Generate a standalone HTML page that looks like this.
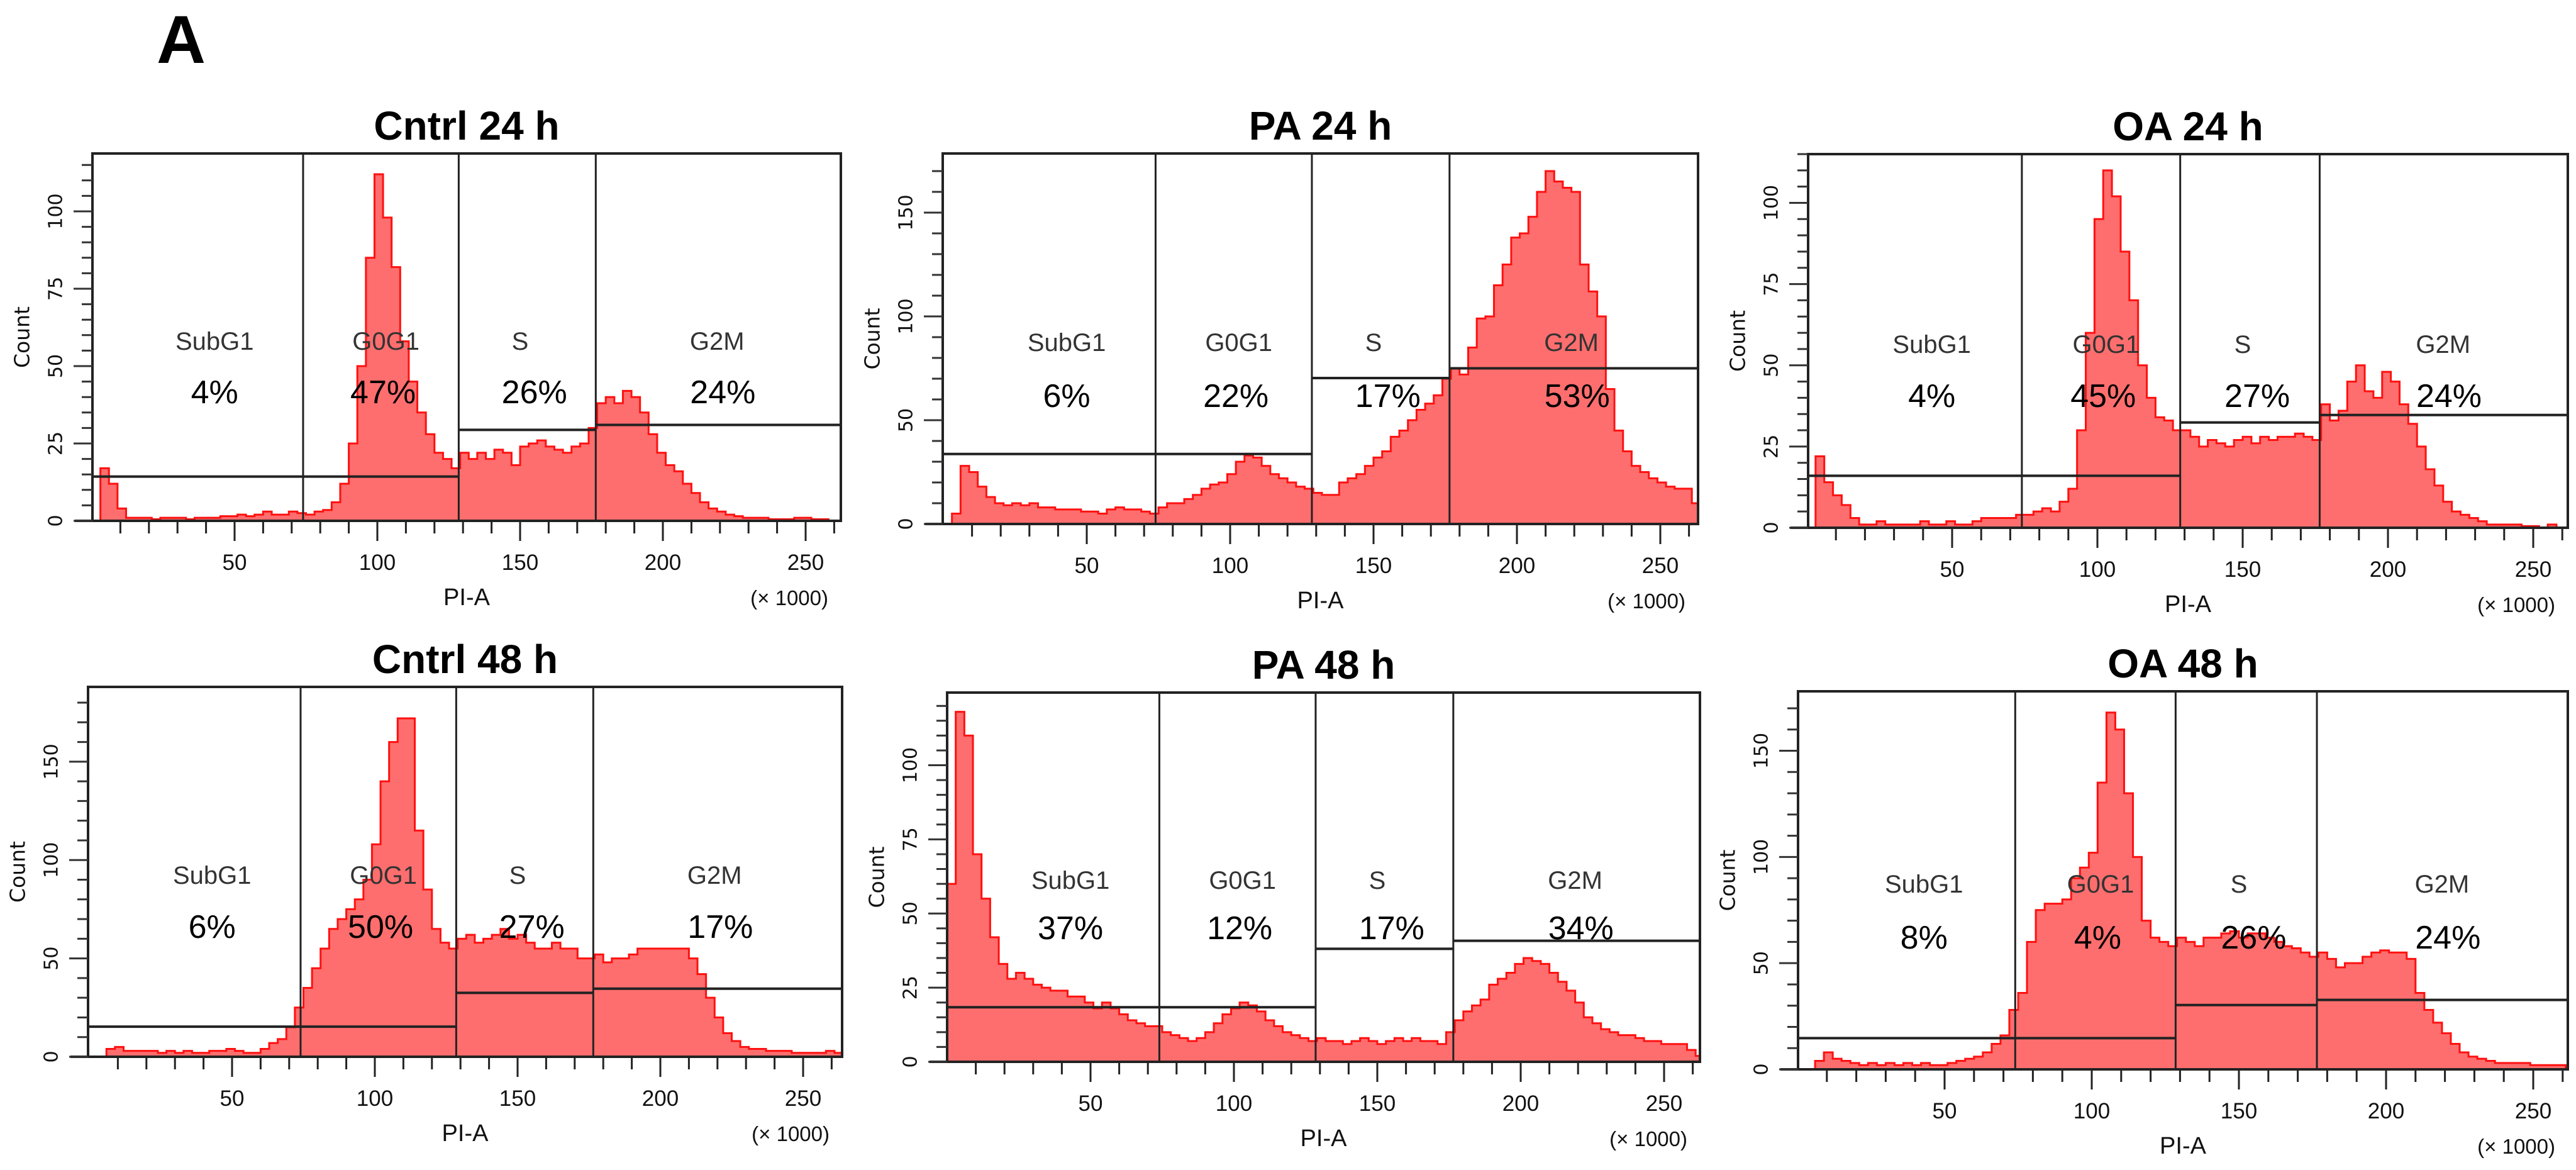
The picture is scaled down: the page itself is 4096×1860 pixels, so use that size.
<!DOCTYPE html>
<html><head><meta charset="utf-8"><title>Cell cycle histograms</title>
<style>
html,body{margin:0;padding:0;background:#fff;}
svg{display:block;}
</style></head>
<body>
<svg id="fig" width="4096" height="1860" viewBox="0 0 4096 1860" xmlns="http://www.w3.org/2000/svg">
<rect width="4096" height="1860" fill="#fff"/>
<text x="288" y="100" font-family="Liberation Sans, sans-serif" font-weight="bold" font-size="108" text-anchor="middle" fill="#000">A</text>
</svg>
<script>
// shared x bins (×1000)
const binStarts = [0,3,6,9,12,15,18,21,24,27,30,33,36,39,42,45,48,51,54,57,60,63,66,69,72,75,78,81,84,87,90,93,96,99,102,105,108,111,114,117,120,123,126,129,132,135,138,141,144,147,150,153,156,159,162,165,168,171,174,177,180,183,186,189,192,195,198,201,204,207,210,213,216,219,222,225,228,231,234,237,240,243,246,249,252,255,258,261];
const xTickLabels = ["50","100","150","200","250"];
const regionNames = ["SubG1","G0G1","S","G2M"];
const gateBounds = [74,128.5,176.5];
const panelTitles = ["Cntrl 24 h","PA 24 h","OA 24 h","Cntrl 48 h","PA 48 h","OA 48 h"];
const pctCntrl24 = ["4%","47%","26%","24%"];
const pctPA24 = ["6%","22%","17%","53%"];
const pctOA24 = ["4%","45%","27%","24%"];
const pctCntrl48 = ["6%","50%","27%","17%"];
const pctPA48 = ["37%","12%","17%","34%"];
const pctOA48 = ["8%","4%","26%","24%"];
const gateCntrl24 = [14.3,14.3,29.4,31];
const gatePA24 = [33.7,33.7,70.3,75];
const gateOA24 = [16,16,32.4,34.7];
const gateCntrl48 = [15.3,15.3,32.5,34.6];
const gatePA48 = [18.4,18.4,38.1,40.8];
const gateOA48 = [14.7,14.7,30.3,32.7];
const yMaxes = [118.7,178.5,115,188,124.5,178];
const countsCntrl24 = [0,17,12,4,1,1,1,0.5,1,1,1,0.5,1,1,1,1.5,1.5,2,1.5,2,3,2,2,3,2.5,2,3,3.5,6,12,25,50,85,112,98,82,58,45,35,28,22,20,17,22,20,22,20,23,22,18,24,25,26,24,23,22,24,25,30,38,40,38,42,40,35,28,22,18,16,12,9,6,4,3,2,1.5,1,1,1,0.5,0.5,0.5,1,1,0.5,0.5,0,0];
const countsPA24 = [0,5,28,25,18,13,10,9,10,9,10,8,8,7,7,7,6,6,5,7,8,7,7,6,5,8,10,10,12,14,17,19,20,24,30,33,32,28,24,22,20,18,17,15,14,14,20,22,24,28,32,35,42,45,50,55,58,62,70,75,72,85,99,100,115,125,138,140,148,160,170,165,162,160,125,112,100,65,45,35,28,25,22,20,18,17,17,10];
const countsOA24 = [0,22,14,10,7,3,1,1,2,1,1,1,1,2,1,1,2,1,1,2,3,3,3,3,4,4,5,6,5,8,12,30,60,95,110,102,85,70,50,40,34,33,30,30,28,25,27,26,25,27,28,26,28,27,28,28,29,28,27,38,33,36,45,50,42,40,48,45,38,32,25,18,13,8,5,4,3,2,1,1,1,1,0.5,0.5,0,1,0,0];
const countsCntrl48 = [0,0,4,5,3,3,3,3,2,3,2,3,2,2,3,3,4,3,2,2,4,7,9,15,25,35,45,55,65,70,75,80,90,108,140,160,172,172,115,85,65,58,55,60,62,58,60,62,65,60,62,58,55,55,58,55,55,50,50,52,48,50,50,52,55,55,55,55,55,55,50,42,30,20,12,8,5,4,4,3,3,3,2,2,2,2,3,2];
const countsPA48 = [60,118,110,70,55,42,33,28,30,28,26,25,24,24,22,22,20,18,20,18,16,14,13,12,12,10,9,8,7,8,10,13,16,18,20,19,17,14,12,10,9,8,7,8,7,7,6,7,8,7,6,7,8,7,8,7,7,6,10,14,17,19,21,26,28,30,33,35,34,33,30,27,24,20,15,13,11,10,9,9,8,7,7,6,6,6,4,2];
const countsOA48 = [0,0,4,8,5,4,3,2,3,2,3,2,3,2,3,2,2,3,4,5,6,8,12,16,28,36,60,75,78,78,80,90,95,102,135,168,160,130,100,70,62,60,58,62,60,58,62,62,64,65,62,64,64,62,60,58,57,55,53,55,52,48,50,50,53,55,56,55,55,52,36,28,22,17,12,8,6,5,4,3,3,3,3,2,2,2,2,1];

const SVGNS = "http://www.w3.org/2000/svg";
const svg = document.getElementById('fig');
function mk(tag, attrs, parent){
  const e = document.createElementNS(SVGNS, tag);
  for (const k in attrs) e.setAttribute(k, attrs[k]);
  (parent||svg).appendChild(e);
  return e;
}
const layouts = [
  {left:147,right:1337,top:244,bottom:828,x0:146,pxk:4.54,labY:543,pctY:624},
  {left:1499,right:2700,top:244,bottom:833,x0:1500,pxk:4.56,labY:545,pctY:630},
  {left:2875,right:4083,top:245,bottom:839,x0:2873,pxk:4.62,labY:548,pctY:630},
  {left:140,right:1339,top:1092,bottom:1680,x0:142,pxk:4.54,labY:1392,pctY:1474},
  {left:1506,right:2703,top:1101,bottom:1688,x0:1506,pxk:4.56,labY:1400,pctY:1476},
  {left:2859,right:4083,top:1099,bottom:1700,x0:2858,pxk:4.68,labY:1406,pctY:1491}
];
const allCounts = [countsCntrl24,countsPA24,countsOA24,countsCntrl48,countsPA48,countsOA48];
const allPcts = [pctCntrl24,pctPA24,pctOA24,pctCntrl48,pctPA48,pctOA48];
const allGates = [gateCntrl24,gatePA24,gateOA24,gateCntrl48,gatePA48,gateOA48];
const regionLabelX = [43,103,150,219];
const regionPctX = [43,102,155,221];
const FONT = "Liberation Sans, sans-serif";

function drawPanel(i){
  const L = layouts[i], yMax = yMaxes[i];
  const g = mk('g', {});
  
  
  const xs = v => L.x0 + v * L.pxk;
  const ys = v => L.bottom - (Math.min(v, yMax) / yMax) * (L.bottom - L.top);
  const xEnd = (L.right - L.x0) / L.pxk;

  const counts = allCounts[i];
  let d = 'M' + xs(binStarts[0]) + ',' + L.bottom;
  for (let k = 0; k < binStarts.length; k++){
    const xa = xs(binStarts[k]);
    const xb = Math.min(xs(k+1 < binStarts.length ? binStarts[k+1] : xEnd), L.right);
    const y = ys(counts[k]);
    d += ' L' + xa + ',' + y + ' L' + xb + ',' + y;
  }
  d += ' L' + L.right + ',' + L.bottom + ' Z';
  const area = mk('path', {d:d, fill:'#ff6e6e', stroke:'#ff1010', 'stroke-width':3, 'stroke-linejoin':'miter'}, g);
  
  

  gateBounds.forEach((b, j) => {
    const ln = mk('line', {x1:xs(b), x2:xs(b), y1:L.top, y2:L.bottom, stroke:'#222', 'stroke-width':3}, g);
    
    
  });
  const gates = allGates[i];
  const segs = [[L.left, xs(gateBounds[0])],[xs(gateBounds[0]), xs(gateBounds[1])],[xs(gateBounds[1]), xs(gateBounds[2])],[xs(gateBounds[2]), L.right]];
  gates.forEach((gv, j) => {
    const ln = mk('line', {x1:segs[j][0], x2:segs[j][1], y1:ys(gv), y2:ys(gv), stroke:'#222', 'stroke-width':4}, g);
    
    
  });

  const fr = mk('rect', {x:L.left, y:L.top, width:L.right-L.left, height:L.bottom-L.top, fill:'none', stroke:'#222', 'stroke-width':4}, g);
  
  
  const ax = mk('line', {x1:L.left-28, x2:L.right, y1:L.bottom, y2:L.bottom, stroke:'#222', 'stroke-width':4}, g);
  
  

  for (let v = 10; v <= 260; v += 10){
    const major = v % 50 === 0;
    const t = mk('line', {x1:xs(v), x2:xs(v), y1:L.bottom, y2:L.bottom + (major ? 32 : 20), stroke:'#222', 'stroke-width':3}, g);
    
    
  }
  xTickLabels.forEach((lab) => {
    const v = parseFloat(lab);
    const t = mk('text', {x:xs(v), y:L.bottom + 78, 'font-family':FONT, 'font-size':35, 'text-anchor':'middle', fill:'#111'}, g);
    t.textContent = lab;
    
    
  });
  const xt = mk('text', {x:(L.left+L.right)/2, y:L.bottom + 134, 'font-family':FONT, 'font-size':38, 'text-anchor':'middle', fill:'#111'}, g);
  xt.textContent = 'PI-A';
  
  
  const xu = mk('text', {x:L.right - 20, y:L.bottom + 134, 'font-family':FONT, 'font-size':33, 'text-anchor':'end', fill:'#111'}, g);
  xu.textContent = '(× 1000)';
  
  

  const minor = yMax < 130 ? 5 : 10, majorStep = yMax < 130 ? 25 : 50;
  for (let v = 0; v <= yMax; v += minor){
    const isMajor = v % majorStep === 0;
    const t = mk('line', {x1:L.left - (isMajor ? 30 : 17), x2:L.left, y1:ys(v), y2:ys(v), stroke:'#333', 'stroke-width':3}, g);
    
    
    if (isMajor){
      const lx = L.left - 58, ly = ys(v);
      const tl = mk('text', {x:lx, y:ly, 'font-family':'DejaVu Sans, sans-serif', 'font-size':30, 'text-anchor':'middle', 'dominant-baseline':'central', fill:'#111', transform:'rotate(-90 ' + lx + ' ' + ly + ')'}, g);
      tl.textContent = String(v);
      
      
    }
  }
  const cx = L.left - 112, cy = (L.top + L.bottom) / 2;
  const yt = mk('text', {x:cx, y:cy, 'font-family':'DejaVu Sans, sans-serif', 'font-size':33, 'text-anchor':'middle', 'dominant-baseline':'central', fill:'#111', transform:'rotate(-90 ' + cx + ' ' + cy + ')'}, g);
  yt.textContent = 'Count';
  
  

  regionNames.forEach((nm, j) => {
    const t = mk('text', {x:xs(regionLabelX[j]), y:L.labY, 'font-family':FONT, 'font-size':40, 'text-anchor':'middle', 'dominant-baseline':'central', fill:'#333'}, g);
    t.textContent = nm;
    
    
    const p = mk('text', {x:xs(regionPctX[j]), y:L.pctY, 'font-family':FONT, 'font-size':52, 'text-anchor':'middle', 'dominant-baseline':'central', fill:'#000'}, g);
    p.textContent = allPcts[i][j];
    
    
  });

  const tt = mk('text', {x:(L.left+L.right)/2, y:L.top - 22, 'font-family':FONT, 'font-weight':'bold', 'font-size':64, 'text-anchor':'middle', fill:'#000'}, g);
  tt.textContent = panelTitles[i];
  
  
}
for (let i = 0; i < 6; i++) drawPanel(i);
</script>
</body></html>
